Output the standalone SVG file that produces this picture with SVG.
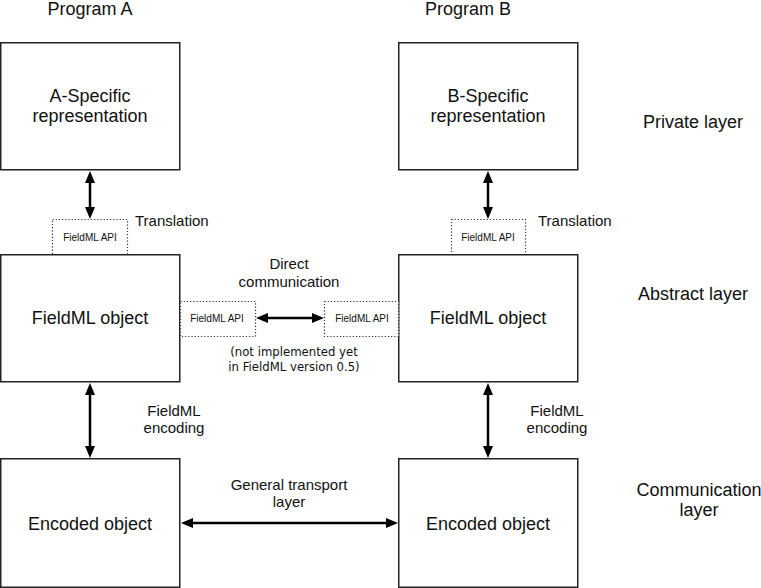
<svg xmlns="http://www.w3.org/2000/svg" width="761" height="588" viewBox="0 0 761 588">
<style>
.box{fill:#fff;stroke:#222;stroke-width:1.5}
.api{fill:#fff;stroke:#333;stroke-width:1.2;stroke-dasharray:1.2 2}
.t{font-family:"Liberation Sans",Arial,sans-serif;fill:#111;text-anchor:middle}
.big{font-size:18px}
.mid{font-size:15px}
.sm{font-size:10px}
.dv{font-family:"DejaVu Sans",sans-serif;font-size:11.7px;fill:#111;text-anchor:middle}
.arr{stroke:#000;stroke-width:2.5;fill:none;marker-start:url(#ah);marker-end:url(#ah)}
</style>
<defs>
<marker id="ah" markerUnits="userSpaceOnUse" markerWidth="12" markerHeight="10" refX="2" refY="5" orient="auto-start-reverse" viewBox="0 0 12 10">
<path d="M0,0 L12,5 L0,10 z" fill="#000"/>
</marker>
</defs>
<rect width="761" height="588" fill="#fff"/>

<g id="labels">
<text class="t big" x="90" y="15">Program A</text>
<text class="t big" x="468" y="15">Program B</text>
<text class="t big" x="693" y="128">Private layer</text>
<text class="t big" x="693" y="300">Abstract layer</text>
<text class="t big" x="699" y="496">Communication</text>
<text class="t big" x="699" y="516">layer</text>
<text class="t mid" x="135" y="226" style="text-anchor:start">Translation</text>
<text class="t mid" x="538" y="226" style="text-anchor:start">Translation</text>
<text class="t mid" x="289" y="269">Direct</text>
<text class="t mid" x="289" y="287">communication</text>
<text class="dv" x="294" y="356">(not implemented yet</text>
<text class="dv" x="294" y="371">in FieldML version 0.5)</text>
<text class="t mid" x="174" y="416">FieldML</text>
<text class="t mid" x="174" y="433">encoding</text>
<text class="t mid" x="557" y="416">FieldML</text>
<text class="t mid" x="557" y="433">encoding</text>
<text class="t mid" x="289" y="490">General transport</text>
<text class="t mid" x="289" y="507">layer</text>
</g>

<g id="a-specific">
<rect class="box" x="0.75" y="42.75" width="179" height="127"/>
<text class="t big" x="90" y="102">A-Specific</text>
<text class="t big" x="90" y="122">representation</text>
</g>
<g id="b-specific">
<rect class="box" x="398.75" y="42.75" width="179" height="127"/>
<text class="t big" x="488" y="102">B-Specific</text>
<text class="t big" x="488" y="122">representation</text>
</g>

<g id="api-a-top">
<rect class="api" x="52.5" y="219.5" width="75" height="35"/>
<text class="t sm" x="90" y="241">FieldML API</text>
</g>
<g id="api-b-top">
<rect class="api" x="451.5" y="219.5" width="74" height="35"/>
<text class="t sm" x="488" y="241">FieldML API</text>
</g>

<g id="fieldml-a">
<rect class="box" x="0.75" y="254.75" width="179" height="127"/>
<text class="t big" x="90" y="324">FieldML object</text>
</g>
<g id="fieldml-b">
<rect class="box" x="398.75" y="254.75" width="179" height="127"/>
<text class="t big" x="488" y="324">FieldML object</text>
</g>

<g id="api-a-side">
<rect class="api" x="180.5" y="301.5" width="75" height="35"/>
<text class="t sm" x="217" y="322">FieldML API</text>
</g>
<g id="api-b-side">
<rect class="api" x="324.5" y="301.5" width="74" height="35"/>
<text class="t sm" x="362" y="322">FieldML API</text>
</g>

<g id="encoded-a">
<rect class="box" x="0.75" y="458.75" width="179" height="128.5"/>
<text class="t big" x="90" y="530">Encoded object</text>
</g>
<g id="encoded-b">
<rect class="box" x="398.75" y="458.75" width="179" height="128.5"/>
<text class="t big" x="488" y="530">Encoded object</text>
</g>

<g id="connectors">
<line class="arr" x1="90" y1="181" x2="90" y2="209"/>
<line class="arr" x1="488" y1="181" x2="488" y2="209"/>
<line class="arr" x1="90" y1="393" x2="90" y2="448"/>
<line class="arr" x1="488" y1="393" x2="488" y2="448"/>
<line class="arr" x1="266" y1="318" x2="314" y2="318"/>
<line class="arr" x1="191" y1="523" x2="388" y2="523"/>
</g>
</svg>
